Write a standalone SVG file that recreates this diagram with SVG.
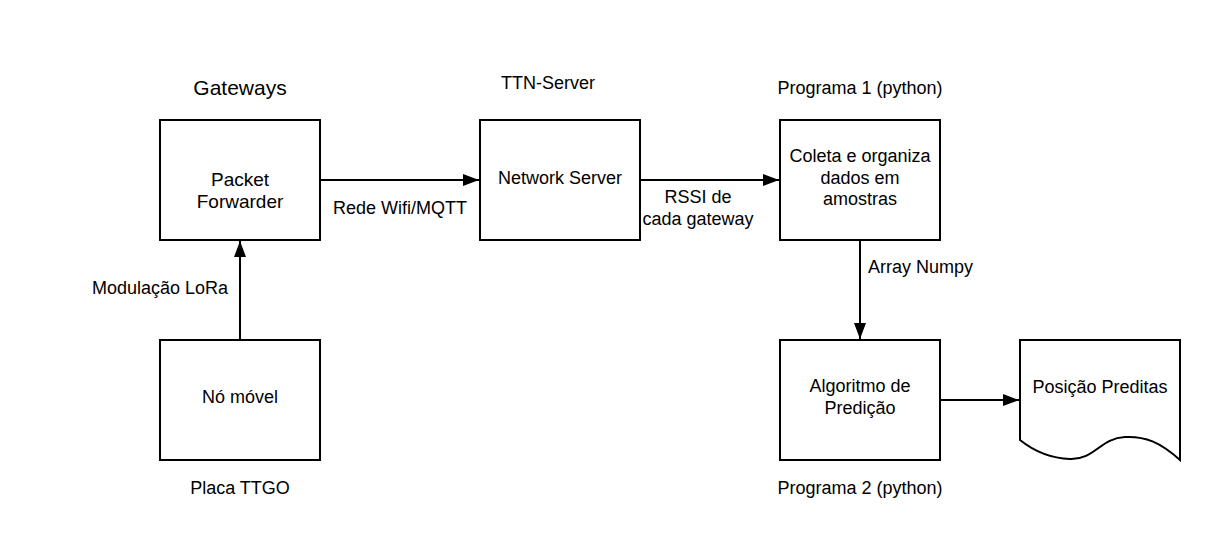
<svg xmlns="http://www.w3.org/2000/svg" width="1220" height="560" viewBox="0 0 1220 560">
<style>
text{font-family:"Liberation Sans",Arial,sans-serif;font-size:18px;fill:#000;text-anchor:middle}
.box{fill:#fff;stroke:#000;stroke-width:2}
.ln{fill:none;stroke:#000;stroke-width:2}
</style>
<defs>
<marker id="ah" viewBox="0 0 16 12" refX="16" refY="6" markerWidth="16" markerHeight="12" markerUnits="userSpaceOnUse" orient="auto">
<path d="M0,0 L16,6 L0,12 Z" fill="#000"/>
</marker>
</defs>
<rect width="1220" height="560" fill="#fff"/>
<g id="connectors">
<line class="ln" x1="320" y1="180" x2="479" y2="180" marker-end="url(#ah)"/>
<line class="ln" x1="640" y1="180" x2="779" y2="180" marker-end="url(#ah)"/>
<line class="ln" x1="860" y1="240" x2="860" y2="339" marker-end="url(#ah)"/>
<line class="ln" x1="240" y1="340" x2="240" y2="241" marker-end="url(#ah)"/>
<line class="ln" x1="940" y1="400" x2="1019" y2="400" marker-end="url(#ah)"/>
<text x="400" y="214">Rede Wifi/MQTT</text>
<text x="698" y="203">RSSI de</text>
<text x="698" y="225">cada gateway</text>
<text x="868" y="273" style="text-anchor:start">Array Numpy</text>
<text x="160" y="294">Modulação LoRa</text>
</g>
<g id="packet-forwarder">
<rect class="box" x="160" y="120" width="160" height="120"/>
<text x="240" y="95" style="font-size:21px">Gateways</text>
<text x="240" y="186" style="font-size:19px">Packet</text>
<text x="240" y="208" style="font-size:19px">Forwarder</text>
</g>
<g id="network-server">
<rect class="box" x="480" y="120" width="160" height="120"/>
<text x="548" y="89">TTN-Server</text>
<text x="560" y="184">Network Server</text>
</g>
<g id="coleta">
<rect class="box" x="780" y="120" width="160" height="120"/>
<text x="860" y="94">Programa 1 (python)</text>
<text x="860" y="162">Coleta e organiza</text>
<text x="860" y="184">dados em</text>
<text x="860" y="205">amostras</text>
</g>
<g id="no-movel">
<rect class="box" x="160" y="340" width="160" height="120"/>
<text x="240" y="403">Nó móvel</text>
<text x="240" y="494">Placa TTGO</text>
</g>
<g id="algoritmo">
<rect class="box" x="780" y="340" width="160" height="120"/>
<text x="860" y="392">Algoritmo de</text>
<text x="860" y="414">Predição</text>
<text x="860" y="494">Programa 2 (python)</text>
</g>
<g id="posicao">
<path class="box" d="M1020,340 H1180 V460 C1160,442 1145,436 1125,437 C1100,438 1095,460 1070,459 C1045,458 1030,448 1020,440 Z"/>
<text x="1100" y="393">Posição Preditas</text>
</g>
</svg>
